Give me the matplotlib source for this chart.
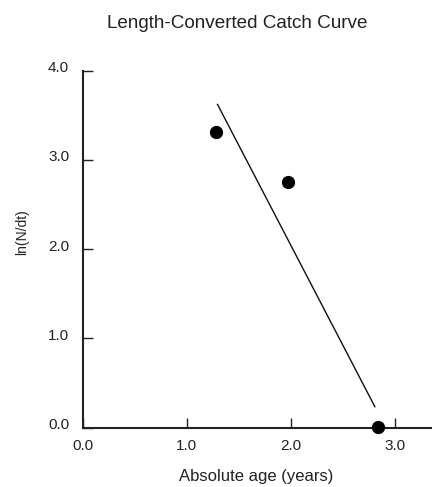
import matplotlib
matplotlib.use("Agg")
import matplotlib.pyplot as plt
from matplotlib.transforms import ScaledTranslation

# Data
age = [1.285, 1.975, 2.84]
ln_n_dt = [3.31, 2.755, 0.01]
reg_x = [1.295, 2.81]
reg_y = [3.62, 0.235]
xticks = [0.0, 1.0, 2.0, 3.0]
yticks = [0.0, 1.0, 2.0, 3.0, 4.0]

plt.rcParams['font.family'] = ['Liberation Sans', 'DejaVu Sans']

W, H = 432, 487
fig = plt.figure(figsize=(W/100, H/100), dpi=100)
left = 83/W
right = 1.0
bottom = 1 - 427.7/H
top = 1 - 70.5/H
ax = fig.add_axes([left, bottom, right-left, top-bottom])

ax.plot(reg_x, reg_y, color='#111111', lw=1.0)
ax.plot(age, ln_n_dt, 'o', color='black', markersize=8.5, clip_on=False, zorder=5)

ax.set_xlim(0, 3.36)
ax.set_ylim(0, 4.0)
ax.set_xticks(xticks)
ax.set_yticks(yticks)
ax.set_xticklabels([f"{v:.1f}" for v in xticks])
ax.set_yticklabels([f"{v:.1f}" for v in yticks])
for s in ['top', 'right']:
    ax.spines[s].set_visible(False)
for s in ['left', 'bottom']:
    ax.spines[s].set_linewidth(1.5)
    ax.spines[s].set_color('#222222')
ax.tick_params(direction='in', length=7.5, width=1.0, labelsize=11, colors='#222222')
ax.tick_params(axis='x', pad=8)
ax.tick_params(axis='y', pad=10)
off = ScaledTranslation(0, 4/100, fig.dpi_scale_trans)
for lab in ax.get_yticklabels():
    lab.set_transform(lab.get_transform() + off)

fig.text(256/W, 1 - 477/H, 'Absolute age (years)', ha='center', va='center',
         fontsize=12, color='#222222')
fig.text(22/W, 1 - 232/H, 'ln(N/dt)', ha='center', va='center', rotation=90,
         fontsize=10, color='#222222')
fig.text(237/W, 1 - 24/H, 'Length-Converted Catch Curve', ha='center', va='center',
         fontsize=13.6, color='#222222')

fig.savefig('out.png', dpi=100)
